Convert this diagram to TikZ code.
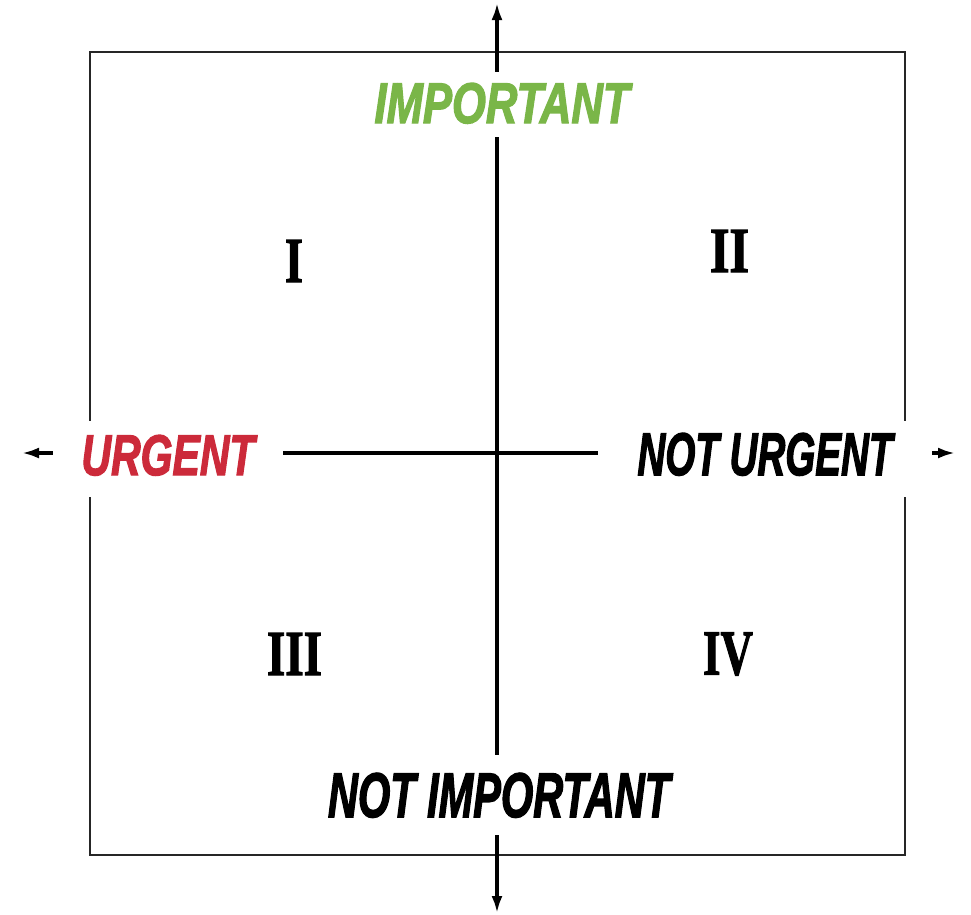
\documentclass[tikz,border=0pt]{standalone}
\usepackage{fontspec}
\usepackage{graphicx}
\usetikzlibrary{arrows.meta}
\newfontfamily\labfont[FakeBold=2.5]{Liberation Sans Bold Italic}
\newfontfamily\romfont[FakeBold=2]{Liberation Serif Bold}
\definecolor{impgreen}{HTML}{7AB648}
\definecolor{urgred}{HTML}{CC2A3A}
\tikzset{
  axisline/.style={line width=3.2pt, black, -{Latex[length=17pt,width=11pt]}},
  framebox/.style={line width=1.5pt, draw=black!85},
  masklabel/.style={fill=white, anchor=base, inner sep=0pt},
  numeral/.style={inner sep=0pt, anchor=center}
}
\newcommand{\lbl}[3]{\resizebox{#1pt}{#2pt}{\labfont #3}}
\newcommand{\rom}[3]{\resizebox{#1pt}{#2pt}{\romfont #3}}
\begin{document}
\begin{tikzpicture}[x=1pt,y=-1pt]
\useasboundingbox (0,0) rectangle (971,914);
% frame
\node[framebox, minimum width=815pt, minimum height=803pt, inner sep=0pt] (frame) at (497.5,453.5) {};
% axis end points
\coordinate (top) at (497,3);
\coordinate (bottom) at (497,913);
\coordinate (left) at (22,453);
\coordinate (right) at (955,453);
\coordinate (c) at (497,453);
\draw[axisline] (c) -- (top);
\draw[axisline] (c) -- (bottom);
\draw[axisline] (c) -- (left);
\draw[axisline] (c) -- (right);
% labels
\node[masklabel, inner xsep=14pt, inner ysep=11pt, text depth=3pt] (imp) at (502,123) {\lbl{255}{40}{\textcolor{impgreen}{IMPORTANT}}};
\node[masklabel, inner xsep=18pt, inner ysep=18pt, text depth=0pt] (notimp) at (499,817) {\lbl{342}{44}{NOT IMPORTANT}};
\node[masklabel, inner xsep=28pt, inner ysep=14pt, text depth=8pt] (urg) at (168,475) {\lbl{173}{40}{\textcolor{urgred}{URGENT}}};
\node[masklabel, inner xsep=39pt, inner ysep=12pt, text depth=10pt] (noturg) at (765,475) {\lbl{255}{42}{NOT URGENT}};
% numerals
\node[numeral] (q1) at (294,261) {\rom{18}{42}{I}};
\node[numeral] (q2) at (729.5,251) {\rom{39}{42}{II}};
\node[numeral] (q3) at (294.5,654) {\rom{55}{42}{III}};
\node[numeral] (q4) at (728,654) {\rom{50}{42}{IV}};
\end{tikzpicture}
\end{document}
